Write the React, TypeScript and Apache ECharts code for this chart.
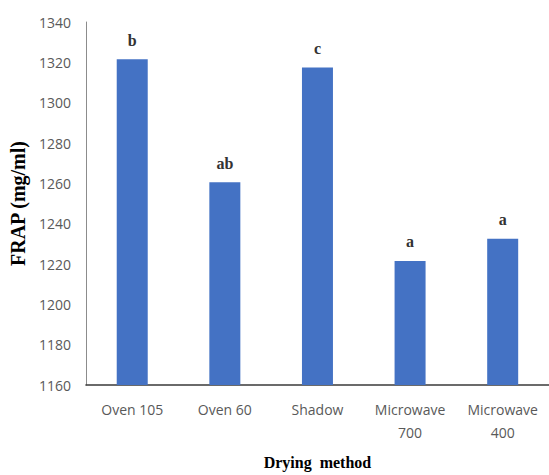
import React, { useEffect, useRef } from "react";
import * as echarts from "echarts";

const categories = ["Oven 105", "Oven 60", "Shadow", "Microwave\n700", "Microwave\n400"];
const frapValues = [1321.5, 1260.5, 1317.5, 1221.5, 1232.5];
const significance = ["b", "ab", "c", "a", "a"];
const yMin = 1160;
const yMax = 1340;
const yStep = 20;
const xTitle = "Drying  method";
const yTitle = "FRAP (mg/ml)";

export default function App() {
  const ref = useRef<HTMLDivElement>(null);
  useEffect(() => {
    if (!ref.current) return;
    const chart = echarts.init(ref.current, null, { renderer: "svg" });
    chart.setOption({
      animation: false,
      backgroundColor: "#ffffff",
      grid: { left: 80, right: 0, top: 22, bottom: 86, containLabel: false },
      xAxis: {
        type: "category",
        data: categories,
        axisLine: { show: true, lineStyle: { color: "#3a3a3a", width: 1.5 } },
        axisTick: { show: false },
        axisLabel: {
          fontFamily: "Open Sans",
          fontSize: 14,
          color: "#595959",
          lineHeight: 23,
          margin: 13,
          interval: 0,
        },
        name: xTitle,
        nameLocation: "middle",
        nameGap: 77,
        nameTextStyle: {
          fontFamily: "Liberation Serif",
          fontWeight: "bold",
          fontSize: 16,
          color: "#000000",
          verticalAlign: "middle",
        },
      },
      yAxis: {
        type: "value",
        min: yMin,
        max: yMax,
        interval: yStep,
        axisLine: { show: true, lineStyle: { color: "#8c8c8c", width: 1 } },
        axisTick: { show: false },
        splitLine: { show: false },
        axisLabel: {
          fontFamily: "Open Sans",
          fontSize: 14,
          color: "#595959",
          margin: 15,
          formatter: (v: number) => String(v),
        },
        name: yTitle,
        nameLocation: "middle",
        nameGap: 64,
        nameTextStyle: {
          fontFamily: "Liberation Serif",
          fontWeight: "bold",
          fontSize: 20,
          color: "#000000",
          verticalAlign: "middle",
        },
      },
      series: [
        {
          type: "bar",
          data: frapValues,
          barWidth: 31,
          itemStyle: { color: "#4472C4" },
          label: {
            show: true,
            position: "top",
            distance: 11,
            formatter: (p: any) => significance[p.dataIndex],
            fontFamily: "Liberation Serif",
            fontWeight: "bold",
            fontSize: 16,
            color: "#333333",
          },
        },
      ],
    });
    return () => chart.dispose();
  }, []);
  return (
    <div
      ref={ref}
      style={{ position: "fixed", left: 0, top: 0, width: 549, height: 475 }}
    />
  );
}
